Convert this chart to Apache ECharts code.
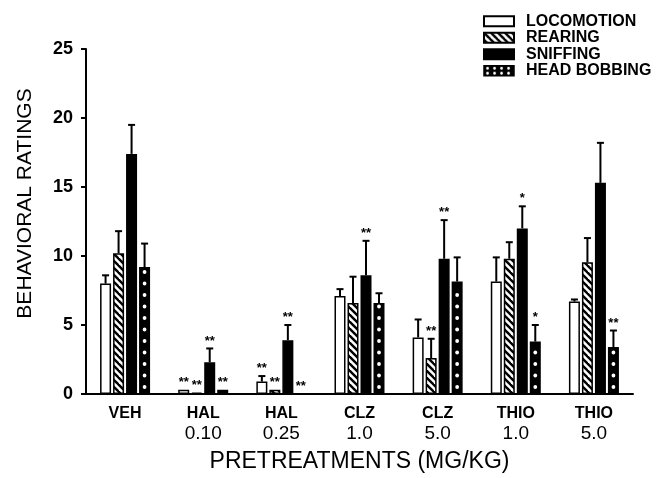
<!DOCTYPE html>
<html><head><meta charset="utf-8">
<script src="https://cdn.jsdelivr.net/npm/echarts@6/dist/echarts.min.js"></script>
<style>html,body{margin:0;padding:0;background:#fff}#c{width:657px;height:478px}</style>
</head><body><div id="c"></div>
<script>
const categories = ['VEH', 'HAL\n0.10', 'HAL\n0.25', 'CLZ\n1.0', 'CLZ\n5.0', 'THIO\n1.0', 'THIO\n5.0'];
const seriesNames = ['LOCOMOTION', 'REARING', 'SNIFFING', 'HEAD BOBBING'];
const locomotion = [8.0, 0.3, 0.9, 7.1, 4.1, 8.15, 6.7];
const rearing = [10.2, 0.1, 0.3, 6.6, 2.6, 9.8, 9.55];
const sniffing = [17.4, 2.3, 3.9, 8.6, 9.8, 12.0, 15.3];
const headBobbing = [9.2, 0.3, 0, 6.6, 8.15, 3.8, 3.4];
const locomotionErr = [0.6, 0, 0.4, 0.5, 1.3, 1.75, 0.15];
const rearingErr = [1.6, 0, 0, 1.9, 1.4, 1.2, 1.75];
const sniffingErr = [2.1, 1.0, 1.1, 2.5, 2.8, 1.6, 2.9];
const headBobbingErr = [1.7, 0, 0, 0.7, 1.75, 1.2, 1.2];
const locomotionSig = ['', '**', '**', '', '', '', ''];
const rearingSig = ['', '**', '**', '', '**', '', ''];
const sniffingSig = ['', '**', '**', '**', '**', '*', ''];
const headBobbingSig = ['', '**', '**', '', '', '*', '**'];
const yMin = 0, yMax = 25, yInterval = 5;

const values = [locomotion, rearing, sniffing, headBobbing];
const errs = [locomotionErr, rearingErr, sniffingErr, headBobbingErr];
const sigs = [locomotionSig, rearingSig, sniffingSig, headBobbingSig];

const BAR_W = 11, BAR_GAP = 2, STEP = BAR_W + BAR_GAP;
const FONT = '"Liberation Sans", Arial, Helvetica, sans-serif';

function stripeCanvas() {
  const s = 7, cv = document.createElement('canvas');
  cv.width = s; cv.height = s;
  const g = cv.getContext('2d');
  g.fillStyle = '#fff'; g.fillRect(0, 0, s, s);
  g.strokeStyle = '#000'; g.lineWidth = 2.4;
  for (let k = -1; k <= 1; k++) {
    g.beginPath(); g.moveTo(k * s - 1, -1); g.lineTo(k * s + s + 1, s + 1); g.stroke();
  }
  return cv;
}
function dotCanvas() {
  const cv = document.createElement('canvas');
  cv.width = 7; cv.height = 5;
  const g = cv.getContext('2d');
  g.fillStyle = '#000'; g.fillRect(0, 0, 7, 5);
  g.fillStyle = '#fff';
  g.beginPath(); g.arc(3.5, 2.5, 1.4, 0, Math.PI * 2); g.fill();
  return cv;
}

const fills = ['#fff', { image: stripeCanvas(), repeat: 'repeat' }, '#000', '#000'];

const barSeries = seriesNames.map((name, s) => ({
  name, type: 'bar', data: values[s], barWidth: BAR_W, barGap: (BAR_GAP / BAR_W * 100) + '%',
  itemStyle: { color: fills[s], borderColor: '#000', borderWidth: 1.5 },
  emphasis: { disabled: true }, z: 2
}));

const errData = [];
for (let s = 0; s < 4; s++) for (let c = 0; c < categories.length; c++)
  errData.push([c, values[s][c], values[s][c] + errs[s][c], s]);

const errSeries = {
  type: 'custom', z: 4, silent: true,
  encode: { x: 0, y: [1, 2] },
  data: errData,
  renderItem(params, api) {
    const c = api.value(0), v = api.value(1), top = api.value(2), s = api.value(3);
    const p0 = api.coord([c, v]), p1 = api.coord([c, top]);
    const x = p0[0] + (s - 1.5) * STEP;
    const ch = [];
    if (top > v) {
      ch.push({ type: 'line', shape: { x1: x, y1: p0[1], x2: x, y2: p1[1] }, style: { stroke: '#000', lineWidth: 2 } });
      ch.push({ type: 'line', shape: { x1: x - 3.5, y1: p1[1], x2: x + 3.5, y2: p1[1] }, style: { stroke: '#000', lineWidth: 2 } });
    }
    const m = sigs[s][c];
    if (m) {
      ch.push({ type: 'text', style: { text: m, x: x, y: p1[1] - 1, align: 'center', verticalAlign: 'bottom',
        fill: '#000', font: 'bold 13px ' + FONT } });
    }
    return { type: 'group', children: ch };
  }
};

const dotSeries = {
  type: 'custom', z: 3, silent: true,
  encode: { x: 0, y: 1 },
  data: headBobbing.map((v, c) => [c, v]),
  renderItem(params, api) {
    const c = api.value(0), v = api.value(1);
    const b = api.coord([c, 0]), t = api.coord([c, v]);
    const x = b[0] + 1.5 * STEP;
    const ch = [];
    for (let y = b[1] - 7; y > t[1] + 3; y -= 11.5) {
      ch.push({ type: 'circle', shape: { cx: x, cy: y, r: 1.9 }, style: { fill: '#fff' } });
    }
    return { type: 'group', children: ch };
  }
};

const chart = echarts.init(document.getElementById('c'), null, { renderer: 'canvas' });
chart.setOption({
  backgroundColor: '#fff',
  animation: false,
  textStyle: { fontFamily: FONT, color: '#000' },
  grid: { left: 86, right: 24, top: 49, bottom: 83, containLabel: false },
  legend: {
    orient: 'vertical', left: 483, top: 13, padding: 0, itemGap: 0,
    itemWidth: 30, itemHeight: 10, icon: 'rect',
    selectedMode: false,
    data: [{ name: 'LOCOMOTION' }, { name: 'REARING' }, { name: 'SNIFFING' },
      { name: 'HEAD BOBBING', itemStyle: { color: { image: dotCanvas(), repeat: 'repeat' }, borderColor: '#000', borderWidth: 1.5 } }],
    textStyle: { fontSize: 16, fontWeight: 'bold', color: '#000', fontFamily: FONT, lineHeight: 16.5, padding: [0, 0, 0, 7] }
  },
  xAxis: {
    type: 'category', data: categories,
    axisLine: { lineStyle: { color: '#000', width: 2 } },
    axisTick: { show: false },
    axisLabel: {
      margin: 10, interval: 0,
      formatter: (val) => {
        const parts = val.split('\n');
        return '{a|' + parts[0] + '}' + (parts[1] ? '\n{b|' + parts[1] + '}' : '');
      },
      rich: {
        a: { fontSize: 16, fontWeight: 'bold', color: '#000', lineHeight: 20, fontFamily: FONT },
        b: { fontSize: 19, fontWeight: 'normal', color: '#000', lineHeight: 20, fontFamily: FONT }
      }
    },
    name: 'PRETREATMENTS (MG/KG)', nameLocation: 'middle', nameGap: 56,
    nameTextStyle: { fontSize: 23, color: '#000', fontFamily: FONT }
  },
  yAxis: {
    type: 'value', min: yMin, max: yMax, interval: yInterval,
    axisLine: { show: true, lineStyle: { color: '#000', width: 2 } },
    axisTick: { show: true, length: 5, lineStyle: { color: '#000', width: 2 } },
    splitLine: { show: false },
    axisLabel: { fontSize: 18, fontWeight: 'bold', color: '#000', margin: 13, fontFamily: FONT },
    name: 'BEHAVIORAL RATINGS', nameLocation: 'middle', nameGap: 50, nameRotate: 90,
    nameTextStyle: { fontSize: 21, color: '#000', fontFamily: FONT, padding: [0, 0, 0, 36] }
  },
  series: [...barSeries, dotSeries, errSeries]
});
</script>
</body></html>
